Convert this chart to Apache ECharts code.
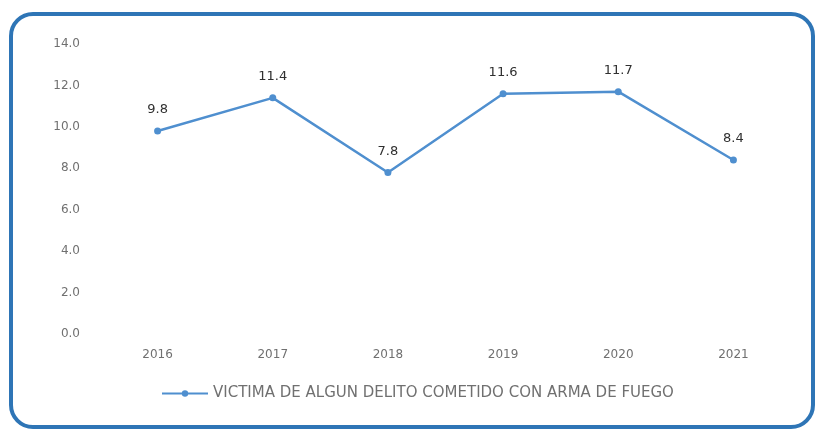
<!DOCTYPE html>
<html>
<head>
<meta charset="utf-8">
<script src="https://cdn.jsdelivr.net/npm/echarts@6/dist/echarts.min.js"></script>
<style>
html,body{margin:0;padding:0;background:#fff;}
#chart{width:821px;height:432px;}
</style>
</head>
<body>
<div id="chart"></div>
<script>
var categories = ['2016', '2017', '2018', '2019', '2020', '2021'];
var values = [9.8, 11.4, 7.8, 11.6, 11.7, 8.4];
var seriesName = 'VICTIMA DE ALGUN DELITO COMETIDO CON ARMA DE FUEGO';

var chart = echarts.init(document.getElementById('chart'));
chart.setOption({
  animation: false,
  backgroundColor: '#ffffff',
  textStyle: { fontFamily: 'DejaVu Sans, sans-serif' },
  graphic: [{
    type: 'rect',
    shape: { x: 11, y: 14, width: 802, height: 413, r: 22 },
    style: { fill: 'none', stroke: '#2e75b6', lineWidth: 4 },
    z: 100
  }],
  grid: { left: 100, right: 30, top: 44, bottom: 98 },
  legend: {
    data: [seriesName],
    left: 156,
    top: 381,
    itemWidth: 46,
    itemHeight: 8,
    itemGap: 2,
    textStyle: { color: '#707070', fontSize: 15, fontFamily: 'DejaVu Sans, sans-serif' }
  },
  xAxis: {
    type: 'category',
    data: categories,
    boundaryGap: true,
    axisLine: { show: false },
    axisTick: { show: false },
    axisLabel: { color: '#707070', fontSize: 12, margin: 15 }
  },
  yAxis: {
    type: 'value',
    min: 0,
    max: 14,
    interval: 2,
    splitLine: { show: false },
    axisLine: { show: false },
    axisTick: { show: false },
    axisLabel: { color: '#707070', fontSize: 12, margin: 20, formatter: function (v) { return v.toFixed(1); } }
  },
  series: [{
    name: seriesName,
    type: 'line',
    data: values,
    symbol: 'circle',
    symbolSize: 7,
    lineStyle: { color: '#4f8fcf', width: 2.5 },
    itemStyle: { color: '#4f8fcf' },
    label: {
      show: true,
      position: 'top',
      distance: 11,
      color: '#303030',
      fontSize: 13,
      formatter: function (p) { return p.value.toFixed(1); }
    }
  }]
});
</script>
</body>
</html>
